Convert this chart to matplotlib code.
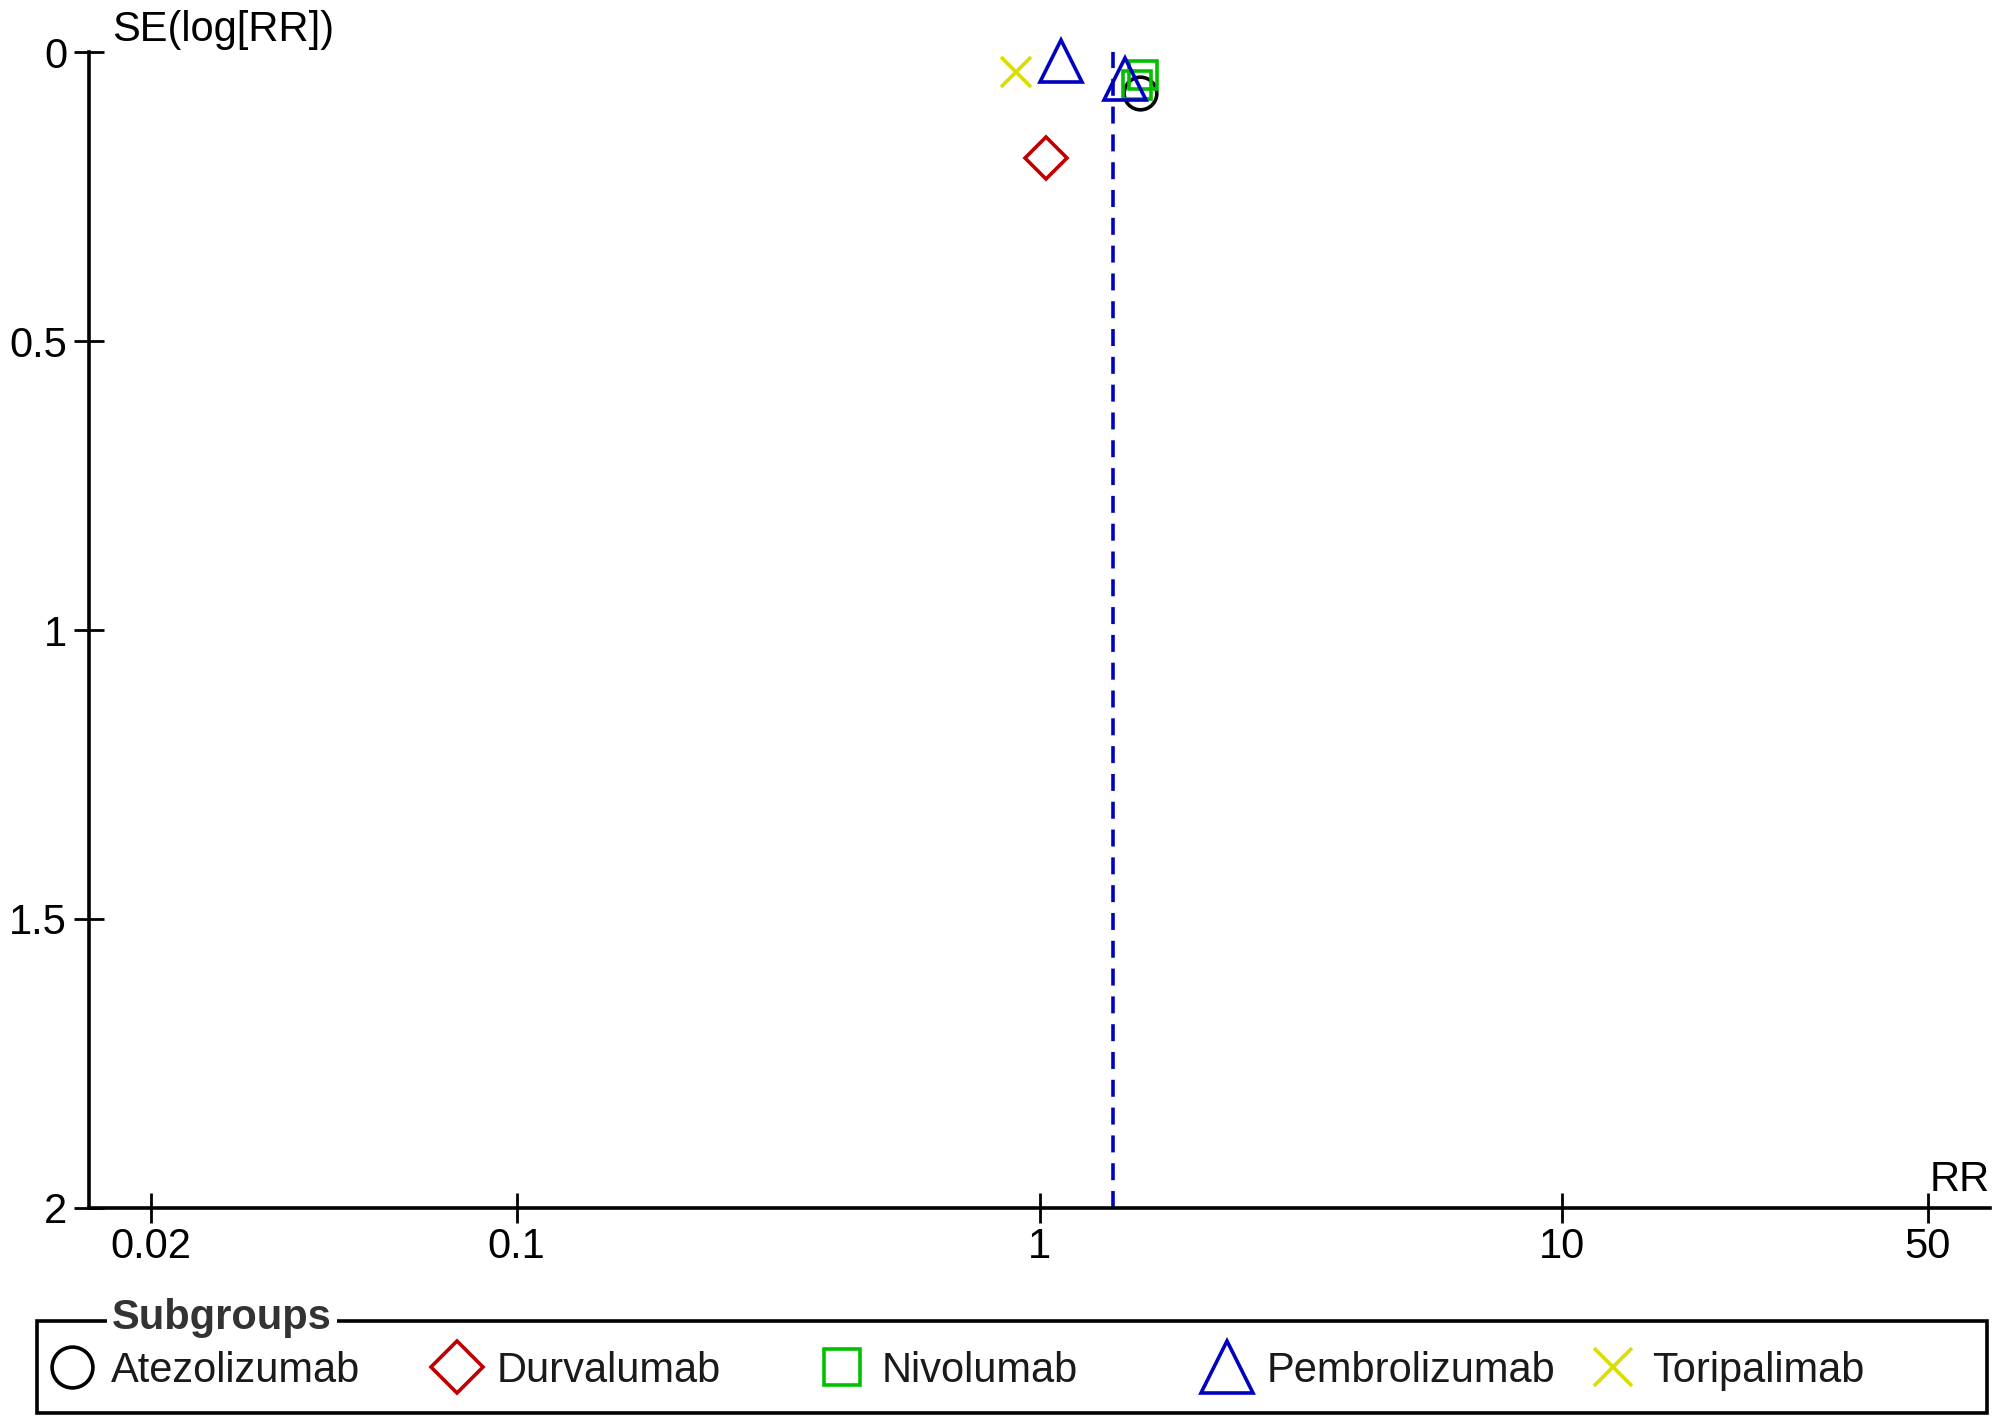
import matplotlib
matplotlib.use("Agg")
import matplotlib.pyplot as plt
from matplotlib.lines import Line2D
from matplotlib.patches import Rectangle

# ============================================================================
# Data
# ============================================================================
subgroups = ['Atezolizumab', 'Durvalumab', 'Nivolumab', 'Pembrolizumab', 'Toripalimab']

atezo_rr = [1.56]
atezo_se = [0.070]
durva_rr = [1.03]
durva_se = [0.183]
nivo_rr = [1.58, 1.535]
nivo_se = [0.039, 0.057]
pembro_rr = [1.10, 1.46]
pembro_se = [0.016, 0.046]
tori_rr = [0.90]
tori_se = [0.034]

pooled_rr = 1.38

x_ticks = [0.02, 0.1, 1, 10, 50]
x_tick_labels = ['0.02', '0.1', '1', '10', '50']
y_ticks = [0, 0.5, 1, 1.5, 2]
y_tick_labels = ['0', '0.5', '1', '1.5', '2']

# styles per subgroup: marker, colour, marker size (pt)
styles = {
    'Atezolizumab': ('o', '#000000', 23.5),
    'Durvalumab': ('D', '#C00000', 21.5),
    'Nivolumab': ('s', '#00C000', 20.5),
    'Pembrolizumab': ('^', '#0000C0', 30),
    'Toripalimab': ('x', '#DDDD00', 21.5),
}
points = {
    'Atezolizumab': (atezo_rr, atezo_se),
    'Durvalumab': (durva_rr, durva_se),
    'Nivolumab': (nivo_rr, nivo_se),
    'Pembrolizumab': (pembro_rr, pembro_se),
    'Toripalimab': (tori_rr, tori_se),
}

plt.rcParams['font.family'] = ['Liberation Sans', 'DejaVu Sans']
FS = 30
LW = 2.6

# ============================================================================
# Figure and axes
# ============================================================================
fig = plt.figure(figsize=(20, 14.26), dpi=100)
ax = fig.add_axes([0.0445, 0.1529, 0.9505, 0.8106])

ax.axvline(pooled_rr, color='#0000C0', lw=LW, dashes=(4.7, 3.0), zorder=1)

for name in subgroups:
    marker, color, ms = styles[name]
    rr, se = points[name]
    ax.plot(rr, se, linestyle='none', marker=marker, ms=ms,
            mfc='none', mec=color, mew=LW, clip_on=False, zorder=3)

ax.set_xscale('log')
ax.set_xlim(10 ** -1.818, 10 ** 1.818)
ax.set_ylim(2, 0)

ax.set_xticks(x_ticks)
ax.set_xticklabels(x_tick_labels)
ax.set_yticks(y_ticks)
ax.set_yticklabels(y_tick_labels)
ax.xaxis.set_minor_locator(matplotlib.ticker.NullLocator())

ax.spines['top'].set_visible(False)
ax.spines['right'].set_visible(False)
for s in ['left', 'bottom']:
    ax.spines[s].set_linewidth(LW)
ax.tick_params(axis='both', direction='inout', length=21.6, width=2.0,
               labelsize=FS, colors='black')
ax.tick_params(axis='y', pad=5)
ax.tick_params(axis='x', pad=3)

# axis titles
fig.text(112 / 2000, 1 - 41 / 1426, 'SE(log[RR])', fontsize=FS,
         va='baseline', ha='left')
fig.text(1990 / 2000, 1 - 1191 / 1426, 'RR', fontsize=FS,
         va='baseline', ha='right')

# ============================================================================
# Legend box with "Subgroups" title sitting on the top border
# ============================================================================
box = Rectangle((37 / 2000, 1 - 1413 / 1426), (1987 - 37) / 2000,
                (1413 - 1321) / 1426, transform=fig.transFigure,
                fill=False, edgecolor='black', lw=LW)
fig.patches.append(box)
fig.text(112 / 2000, 1 - 1318 / 1426, 'Subgroups', fontsize=FS,
         fontweight='bold', color='#333333', va='center', ha='left',
         bbox=dict(boxstyle='square,pad=0.12', fc='white', ec='none'))

for i, name in enumerate(subgroups):
    marker, color, ms = styles[name]
    handle = Line2D([], [], linestyle='none', marker=marker, ms=ms * 1.25,
                    mfc='none', mec=color, mew=LW)
    x0 = (53 + i * 385.2) / 2000
    fig.legend(handles=[handle], labels=[name], loc='center left',
               bbox_to_anchor=(x0, 1 - 1371 / 1426), frameon=False,
               fontsize=FS, labelcolor='#1a1a1a', borderpad=0,
               borderaxespad=0, handlelength=0.9, handletextpad=0.5,
               numpoints=1)

fig.savefig('out.png', dpi=100)
